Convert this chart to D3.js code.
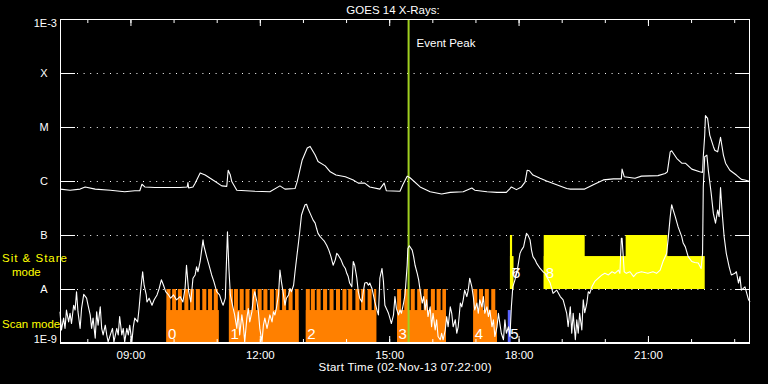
<!DOCTYPE html>
<html>
<head>
<meta charset="utf-8">
<script src="https://cdn.jsdelivr.net/npm/d3@7"></script>
<style>
body{margin:0;background:#000;}
svg{display:block;background:#000;}
text{font-family:"Liberation Sans",Arial,sans-serif;fill:#fff;}
</style>
</head>
<body>
<svg id="chart" width="768" height="384"></svg>
<script>
// all times are minutes after the start time, 02-Nov-13 07:22:00 UT
var startTime = Date.UTC(2013, 10, 2, 7, 22, 0);
var spanMin = 960;

var levelNames = ["1E-3", "X", "M", "C", "B", "A", "1E-9"];
var levelFlux = [1e-3, 1e-4, 1e-5, 1e-6, 1e-7, 1e-8, 1e-9];

// [minute, log10 flux]  long channel (1-8 A)
var longChannel = [[0,-6.15],[14,-6.17],[28,-6.15],[35,-6.11],[49,-6.15],[70,-6.17],[90,-6.20],[104,-6.18],[111,-6.18],[114,-6.06],
  [118,-6.11],[132,-6.12],[167,-6.12],[177,-6.11],[178,-6.03],[179,-6.13],[185,-6.11],[188,-6.04],[195,-5.85],[202,-5.89],
  [216,-6.01],[225,-6.09],[232,-6.10],[234,-5.80],[237,-5.89],[239,-6.01],[246,-6.17],[271,-6.19],[292,-6.20],[306,-6.09],
  [313,-6.15],[327,-6.14],[330,-6.01],[337,-5.61],[344,-5.39],[348,-5.36],[355,-5.52],[359,-5.64],[369,-5.72],[376,-5.83],
  [384,-5.89],[397,-5.92],[408,-5.98],[415,-6.04],[424,-6.04],[431,-6.11],[445,-6.15],[451,-6.04],[454,-6.18],[473,-6.19],
  [477,-6.07],[483,-5.91],[487,-5.94],[501,-6.11],[515,-6.20],[531,-6.24],[543,-6.21],[561,-6.20],[573,-6.13],[577,-6.17],
  [594,-6.20],[608,-6.21],[621,-6.21],[626,-6.14],[628,-6.11],[635,-6.16],[642,-6.11],[647,-6.02],[650,-5.80],[653,-5.81],
  [658,-5.89],[668,-5.95],[677,-6.00],[691,-6.07],[705,-6.14],[710,-6.15],[730,-6.15],[742,-6.07],[756,-5.98],[770,-5.96],
  [781,-5.96],[782,-5.78],[785,-5.92],[800,-5.95],[809,-5.91],[832,-5.90],[842,-5.86],[845,-5.83],[849,-5.46],[851,-5.44],
  [858,-5.58],[865,-5.67],[870,-5.67],[879,-5.78],[890,-5.83],[894,-5.84],[895,-5.55],[897,-5.15],[898,-4.79],[901,-4.84],
  [904,-5.15],[909,-5.36],[911,-5.43],[915,-5.46],[919,-5.19],[923,-5.52],[926,-5.67],[932,-5.80],[941,-5.89],[948,-5.97],
  [953,-5.98],[960,-6.01]];

// [minute, log10 flux]  short channel (0.5-4 A)
var shortChannel = [[0,-8.42],[2,-8.76],[5,-8.54],[7,-8.73],[9,-8.39],[12,-8.61],[14,-8.45],[16,-8.64],[19,-8.30],[21,-8.39],
  [23,-8.05],[25,-8.42],[28,-8.73],[30,-8.36],[33,-8.10],[37,-8.17],[39,-8.30],[42,-8.48],[44,-8.73],[46,-8.54],
  [49,-8.91],[51,-8.42],[53,-8.67],[56,-8.33],[58,-8.73],[60,-8.85],[63,-8.67],[65,-8.85],[67,-8.98],[70,-8.85],
  [73,-8.73],[75,-8.98],[79,-8.73],[81,-8.85],[83,-8.51],[86,-8.85],[88,-8.73],[90,-8.98],[93,-8.73],[95,-8.85],
  [97,-8.67],[100,-8.98],[102,-8.70],[104,-8.54],[108,-8.61],[110,-8.36],[112,-8.05],[115,-7.68],[117,-7.93],[120,-8.11],
  [121,-8.24],[124,-8.17],[128,-8.30],[131,-8.20],[135,-8.11],[138,-7.99],[141,-7.83],[144,-7.93],[147,-8.05],[151,-8.11],
  [154,-8.17],[158,-8.11],[162,-8.20],[167,-8.14],[171,-8.24],[174,-7.99],[176,-7.56],[179,-8.05],[182,-8.24],[185,-7.80],
  [188,-7.74],[190,-7.59],[192,-7.68],[195,-7.49],[199,-7.09],[200,-7.19],[204,-7.40],[208,-7.59],[211,-7.74],[214,-7.86],
  [218,-8.05],[222,-8.11],[225,-8.24],[227,-8.30],[230,-8.17],[231,-7.74],[233,-6.94],[235,-7.62],[237,-8.11],[240,-8.30],
  [243,-8.48],[246,-8.73],[248,-8.42],[250,-8.85],[253,-8.48],[255,-8.67],[257,-8.98],[260,-8.54],[262,-8.36],[264,-8.61],
  [267,-8.42],[269,-8.17],[271,-8.05],[274,-8.24],[276,-8.42],[278,-8.73],[281,-8.98],[283,-8.67],[285,-8.54],[288,-8.73],
  [290,-8.61],[292,-8.48],[295,-8.61],[297,-8.42],[299,-8.48],[301,-8.36],[304,-8.11],[306,-7.65],[308,-7.86],[311,-8.11],
  [313,-8.30],[315,-8.17],[318,-8.11],[320,-7.99],[322,-8.05],[325,-7.93],[327,-7.68],[330,-7.34],[332,-7.12],[334,-6.88],
  [336,-6.63],[339,-6.51],[341,-6.44],[343,-6.43],[345,-6.51],[348,-6.60],[350,-6.66],[352,-6.72],[355,-6.78],[357,-6.88],
  [359,-6.97],[362,-7.03],[364,-7.06],[368,-7.12],[371,-7.19],[374,-7.28],[377,-7.40],[380,-7.56],[383,-7.46],[385,-7.34],
  [387,-7.37],[391,-7.46],[394,-7.56],[397,-7.62],[399,-7.71],[401,-7.77],[403,-7.89],[406,-7.96],[408,-7.49],[410,-7.56],
  [413,-7.80],[415,-8.05],[417,-8.17],[420,-8.24],[422,-8.05],[424,-7.89],[427,-7.88],[429,-7.93],[431,-7.89],[434,-7.99],
  [436,-8.11],[438,-8.24],[441,-8.39],[443,-8.48],[445,-7.80],[448,-7.62],[450,-7.86],[452,-8.30],[455,-8.39],[457,-8.45],
  [459,-8.54],[461,-8.64],[464,-8.48],[466,-8.14],[468,-8.36],[471,-8.48],[473,-8.39],[475,-8.45],[478,-8.26],[480,-8.11],
  [483,-7.56],[484,-7.25],[486,-7.20],[490,-7.28],[492,-7.40],[494,-7.56],[497,-7.71],[499,-7.83],[501,-8.02],[504,-8.26],
  [506,-8.14],[508,-8.39],[510,-8.20],[512,-8.51],[515,-8.33],[517,-8.70],[519,-8.45],[522,-8.76],[524,-8.57],[526,-8.88],
  [529,-8.94],[531,-8.82],[533,-8.94],[536,-8.76],[538,-8.51],[540,-8.70],[543,-8.33],[545,-8.45],[547,-8.70],[550,-8.57],
  [552,-8.82],[554,-8.70],[557,-8.26],[559,-8.33],[561,-8.20],[563,-8.02],[566,-8.14],[568,-8.02],[570,-7.80],[573,-7.96],
  [575,-8.14],[577,-8.39],[580,-8.26],[582,-8.45],[584,-8.20],[587,-8.33],[589,-8.14],[591,-8.45],[594,-8.33],[596,-8.51],
  [598,-8.39],[601,-8.70],[603,-8.57],[605,-8.88],[608,-8.70],[610,-8.45],[612,-8.64],[614,-8.82],[617,-8.94],[619,-8.57],
  [621,-8.82],[624,-8.70],[626,-8.88],[628,-8.33],[630,-7.96],[633,-7.83],[635,-7.71],[637,-7.59],[640,-7.34],[642,-7.28],
  [645,-7.22],[647,-7.09],[649,-6.97],[651,-7.00],[654,-7.09],[656,-7.28],[658,-7.40],[661,-7.46],[663,-7.52],[668,-7.62],
  [672,-7.68],[675,-7.71],[677,-7.77],[682,-7.89],[686,-8.08],[691,-8.02],[696,-8.14],[700,-8.20],[705,-8.45],[707,-8.70],
  [710,-8.33],[712,-8.82],[714,-8.45],[717,-8.94],[719,-8.57],[721,-8.82],[723,-8.45],[726,-8.76],[728,-8.20],[730,-8.44],
  [733,-8.26],[735,-8.05],[737,-8.08],[740,-7.96],[744,-7.86],[749,-7.80],[754,-7.74],[758,-7.71],[763,-7.74],[768,-7.68],
  [772,-7.71],[777,-7.65],[779,-7.71],[781,-7.06],[782,-7.06],[785,-7.68],[788,-7.71],[793,-7.68],[798,-7.77],[802,-7.71],
  [809,-7.68],[818,-7.71],[825,-7.68],[830,-7.71],[835,-7.65],[839,-7.49],[844,-7.34],[846,-7.09],[849,-6.66],[851,-6.44],
  [853,-6.53],[856,-6.66],[860,-6.85],[865,-7.03],[867,-7.15],[870,-7.22],[874,-7.40],[879,-7.49],[883,-7.51],[888,-7.52],
  [892,-7.62],[894,-7.34],[895,-6.11],[897,-5.55],[900,-5.52],[902,-5.80],[906,-6.23],[909,-6.60],[912,-6.78],[915,-6.54],
  [917,-6.66],[919,-6.12],[921,-6.54],[924,-7.03],[927,-7.34],[931,-7.59],[934,-7.74],[939,-7.71],[941,-7.68],[944,-7.89],
  [946,-7.77],[948,-8.02],[953,-7.96],[958,-8.20],[960,-8.24]];

var eventPeakMin = 485;

// scan mode observations: [start, end] and the short rasters inside each one
var scanBlocks = [[148,221],[235,332],[342,440],[469,537],[575,608]];
var scanLabels = ["0","1","2","3","4"];
var scanRasters = [
  [148,156,164,173,181,189,198,206,214],
  [235,242,250,258,267,275,283,292,300,309,318,327],
  [342,349,357,366,375,384,393,401,411,419,428,437],
  [469,479,488,497,506,516,524,532],
  [575,583,591,600]];
var rasterDur = 5.6;
var otherBlocks = [[623,627]];
var otherLabels = ["5"];

// sit & stare observations
var stareLow = [[626,631],[673,897]];
var stareHigh = [[626,629],[673,730],[787,845]];
var stareLabelText = ["6","7","8"];
var stareLabelMin = [626,626,673];

var svg = d3.select("#chart");
var plotLeft = 60, plotRight = 750, plotTop = 19, plotBottom = 343;

function tm(m){ return new Date(startTime + m*60000); }

var x = d3.scaleUtc()
    .domain([tm(0), tm(spanMin)])
    .range([plotLeft, plotRight]);
var y = d3.scaleLog()
    .domain([1e-9, 1e-3])
    .range([plotBottom, plotTop]);

var orange = "#ff8000", yellow = "#ffff00";

// band heights inside the mode rows
var scanBase = y(1e-9), scanTop = y(1e-8);
var stareBase = y(1e-8), stareTop = y(1e-7);
var lowFrac = 0.61;

//grid
levelFlux.slice(1,6).forEach(function(f){
    var yy = Math.round(y(f)) + 0.5;
    svg.append("line").attr("x1",plotLeft).attr("x2",plotLeft+15).attr("y1",yy).attr("y2",yy)
        .attr("stroke","#fff").attr("stroke-width",1);
    svg.append("line").attr("x1",plotRight-15).attr("x2",plotRight).attr("y1",yy).attr("y2",yy)
        .attr("stroke","#fff").attr("stroke-width",1);
    svg.append("line").attr("x1",plotLeft+17).attr("x2",plotRight-15).attr("y1",yy).attr("y2",yy)
        .attr("stroke","#fff").attr("stroke-width",1).attr("stroke-dasharray","1,5.6");
});

//scan mode bars
svg.selectAll(".scanBase").data(scanBlocks).enter().append("rect")
    .attr("class","scanBase")
    .attr("x",function(d){ return x(tm(d[0])); })
    .attr("width",function(d){ return x(tm(d[1])) - x(tm(d[0])); })
    .attr("y", scanBase - lowFrac*(scanBase-scanTop))
    .attr("height", lowFrac*(scanBase-scanTop))
    .attr("fill", orange);
scanRasters.forEach(function(list, i){
    var end = scanBlocks[i][1];
    svg.selectAll(".raster"+i).data(list).enter().append("rect")
        .attr("class","raster"+i)
        .attr("x",function(d){ return x(tm(d)); })
        .attr("width",function(d){ return x(tm(Math.min(d+rasterDur,end))) - x(tm(d)); })
        .attr("y", scanTop)
        .attr("height", scanBase-scanTop)
        .attr("fill", orange);
});
svg.selectAll(".otherBase").data(otherBlocks).enter().append("rect")
    .attr("x",function(d){ return x(tm(d[0])); })
    .attr("width",function(d){ return x(tm(d[1])) - x(tm(d[0])); })
    .attr("y", scanBase - lowFrac*(scanBase-scanTop))
    .attr("height", lowFrac*(scanBase-scanTop))
    .attr("fill", "#5a64ff");

//sit & stare bars
svg.selectAll(".stareLow").data(stareLow).enter().append("rect")
    .attr("x",function(d){ return x(tm(d[0])); })
    .attr("width",function(d){ return x(tm(d[1])) - x(tm(d[0])); })
    .attr("y", stareBase - lowFrac*(stareBase-stareTop))
    .attr("height", lowFrac*(stareBase-stareTop))
    .attr("fill", yellow);
svg.selectAll(".stareHigh").data(stareHigh).enter().append("rect")
    .attr("x",function(d){ return x(tm(d[0])); })
    .attr("width",function(d){ return x(tm(d[1])) - x(tm(d[0])); })
    .attr("y", stareTop)
    .attr("height", stareBase-stareTop)
    .attr("fill", yellow);

//observation numbers
svg.selectAll(".scanLab").data(scanBlocks).enter().append("text")
    .attr("x",function(d){ return x(tm(d[0])) + 1.5; })
    .attr("y", plotBottom - 4)
    .style("font-size","15px")
    .text(function(d,i){ return scanLabels[i]; });
svg.selectAll(".otherLab").data(otherBlocks).enter().append("text")
    .attr("x",function(d){ return x(tm(d[0])) + 2.5; })
    .attr("y", plotBottom - 4)
    .style("font-size","15px")
    .text(function(d,i){ return otherLabels[i]; });
svg.selectAll(".stareLab").data(stareLabelMin).enter().append("text")
    .attr("x",function(d){ return x(tm(d)) + 2; })
    .attr("y", stareBase - 11)
    .style("font-size","15px")
    .text(function(d,i){ return stareLabelText[i]; });

//event peak
var ex = x(tm(eventPeakMin));
svg.append("line").attr("x1",ex).attr("x2",ex).attr("y1",plotTop).attr("y2",plotBottom)
    .attr("stroke","#a0d020").attr("stroke-width",2);
svg.append("text").attr("x",ex+8).attr("y",47).style("font-size","11.5px").text("Event Peak");

//curves
var line = d3.line()
    .x(function(d){ return x(tm(d[0])); })
    .y(function(d){ return y(Math.pow(10,d[1])); });
[longChannel, shortChannel].forEach(function(s){
    svg.append("path").datum(s).attr("d",line)
        .attr("fill","none").attr("stroke","#fff").attr("stroke-width",1.1)
        .attr("stroke-linejoin","round");
});

//frame
svg.append("rect").attr("x",plotLeft+0.5).attr("y",plotTop+0.5)
    .attr("width",plotRight-plotLeft-1).attr("height",plotBottom-plotTop-1)
    .attr("fill","none").attr("stroke","#fff").attr("stroke-width",1);
svg.append("line").attr("x1",plotLeft).attr("x2",plotRight).attr("y1",plotBottom).attr("y2",plotBottom)
    .attr("stroke","#fff").attr("stroke-width",2);

//time ticks, all inward
function addAxis(axis, ty){
    var g = svg.append("g").attr("transform","translate(0,"+ty+")").call(axis);
    g.select(".domain").remove();
    g.selectAll("line").attr("stroke","#fff");
    g.selectAll("text").style("font-family","'Liberation Sans',Arial,sans-serif")
        .style("font-size","11.5px").attr("fill","#fff");
    return g;
}
addAxis(d3.axisBottom(x).ticks(d3.utcHour.every(1)).tickSizeInner(-4).tickSizeOuter(0).tickFormat(""), plotBottom);
addAxis(d3.axisBottom(x).ticks(d3.utcHour.every(3)).tickSizeInner(-7).tickSizeOuter(0)
    .tickPadding(8).tickFormat(d3.utcFormat("%H:%M")), plotBottom);
addAxis(d3.axisTop(x).ticks(d3.utcHour.every(1)).tickSizeInner(-4).tickSizeOuter(0).tickFormat(""), plotTop);
addAxis(d3.axisTop(x).ticks(d3.utcHour.every(3)).tickSizeInner(-7).tickSizeOuter(0).tickFormat(""), plotTop);

//level labels
levelNames.forEach(function(n, i){
    var yy = y(levelFlux[i]);
    var t = svg.append("text").style("font-size","11px").text(n);
    if (i == 0) t.attr("x",57).attr("y",yy+8).attr("text-anchor","end");
    else if (i == 6) t.attr("x",57).attr("y",yy).attr("text-anchor","end");
    else t.attr("x",44).attr("y",yy+4).attr("text-anchor","middle");
});

//mode labels
svg.append("text").attr("x",2).attr("y",262).style("font-size","11.5px").style("fill",yellow)
    .attr("textLength",65).attr("lengthAdjust","spacing").text("Sit & Stare");
svg.append("text").attr("x",12).attr("y",276).style("font-size","11.5px").style("fill",yellow)
    .text("mode");
svg.append("text").attr("x",2).attr("y",328).style("font-size","11.5px").style("fill",yellow)
    .text("Scan mode");

//titles
svg.append("text").attr("x",393).attr("y",14).attr("text-anchor","middle")
    .style("font-size","11.5px").text("GOES 14 X-Rays:");
svg.append("text").attr("x",(plotLeft+plotRight)/2).attr("y",371).attr("text-anchor","middle")
    .style("font-size","11.5px").attr("textLength",173).attr("lengthAdjust","spacing")
    .text("Start Time (02-Nov-13 07:22:00)");
</script>
</body>
</html>
